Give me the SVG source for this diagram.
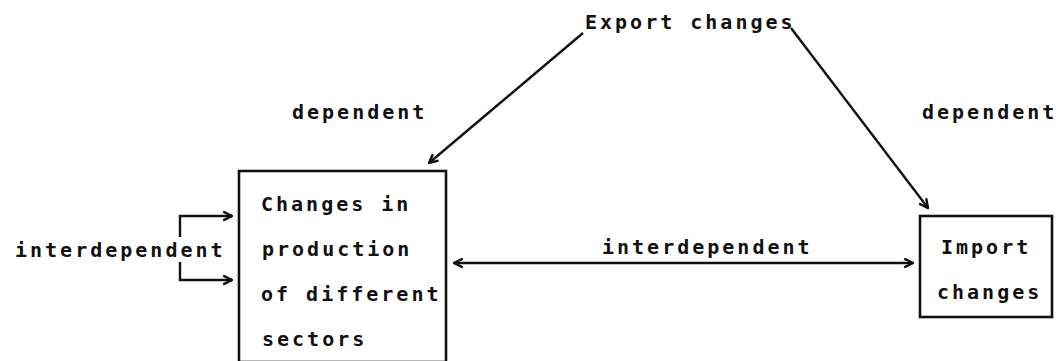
<svg xmlns="http://www.w3.org/2000/svg" width="1061" height="361" viewBox="0 0 1061 361">
<defs>
<style>
text{font-family:"DejaVu Sans Mono","Liberation Mono",monospace;font-weight:bold;font-size:20px;letter-spacing:3px;fill:#111}
.box{fill:none;stroke:#111;stroke-width:2.6}
.c{fill:none;stroke:#111;stroke-width:2.4}
</style>
<marker id="ah" viewBox="0 0 10 10" refX="9" refY="5" markerWidth="11" markerHeight="11" markerUnits="userSpaceOnUse" orient="auto-start-reverse">
<path d="M1,1 L9,5 L1,9" fill="none" stroke="#111" stroke-width="2.2"/>
</marker>
</defs>
<rect width="1061" height="361" fill="#fff"/>
<g id="export">
<text x="585" y="29">Export changes</text>
</g>
<g id="production">
<rect class="box" x="239" y="171" width="207" height="191"/>
<text x="261" y="211">Changes in</text>
<text x="262" y="256">production</text>
<text x="261" y="301">of different</text>
<text x="262" y="346">sectors</text>
</g>
<g id="import">
<rect class="box" x="920" y="216" width="132" height="101"/>
<text x="941" y="254">Import</text>
<text x="937" y="299">changes</text>
</g>
<g id="labels">
<text x="292" y="119">dependent</text>
<text x="922" y="119">dependent</text>
<text x="15" y="257">interdependent</text>
<text x="602" y="254">interdependent</text>
</g>
<g id="connectors">
<path class="c" d="M583,33 L429,163" marker-end="url(#ah)"/>
<path class="c" d="M791,28 L928,208" marker-end="url(#ah)"/>
<path class="c" d="M180,237 V216 H232" marker-end="url(#ah)"/>
<path class="c" d="M180,262 V280 H232" marker-end="url(#ah)"/>
<path class="c" d="M454,263 H913" marker-start="url(#ah)" marker-end="url(#ah)"/>
</g>
</svg>
